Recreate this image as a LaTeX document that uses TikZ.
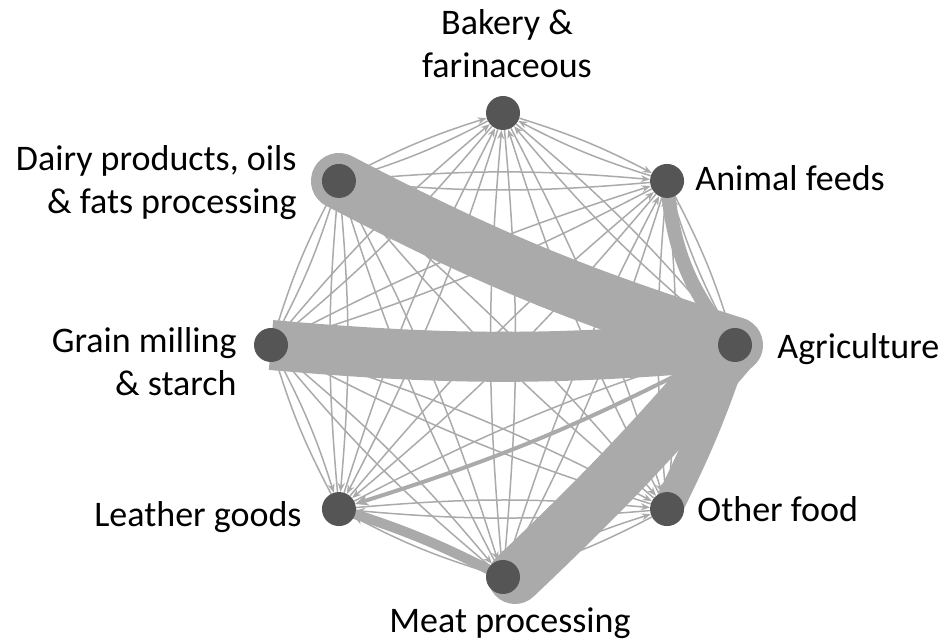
\documentclass[tikz,border=0pt]{standalone}
\usepackage{fontspec}
\setmainfont{Carlito}
\usetikzlibrary{arrows.meta,positioning,backgrounds}
\definecolor{edgegray}{RGB}{170,170,170}
\definecolor{nodegray}{RGB}{85,85,85}
\tikzset{v/.style={circle,fill=nodegray,minimum size=34pt,inner sep=0pt},
 e/.style={draw=edgegray,line width=1.5pt,-{Stealth[length=9pt,width=7pt]},bend left=5},
 band/.style={draw=edgegray,line cap=round},
 lab/.style={font=\fontsize{36}{43}\selectfont,inner sep=0pt}}
\begin{document}
\begin{tikzpicture}[x=1pt,y=1pt]
\useasboundingbox (0,0) rectangle (947,642);
\begin{scope}[shift={(503,297)}]
\node[v](ba) at (90:232){};\node[v](an) at (45:232){};
\node[v](ag) at (0:232){};\node[v](of) at (-45:232){};
\node[v](mp) at (-90:232){};\node[v](lg) at (-135:232){};
\node[v](gm) at (180:232){};\node[v](dp) at (135:232){};
\end{scope}
\begin{pgfonlayer}{background}
\foreach \s in {ba,an,ag,of,mp,lg,gm,dp}{\foreach \t in {ba,an,ag,of,mp,lg,gm,dp}{%
 \ifx\s\t\else\draw[e](\s) to (\t);\fi}}
\draw[e,line width=4pt,-{Stealth[length=13pt,width=11pt]}](ag) to (lg);
\draw[band,line width=10pt](lg.center) to[bend left=5] (mp.center);
\draw[band,line width=14pt](ag.center) to[bend left=18] (an.center);
\draw[band,line width=30pt](ag.center) to[bend left=4] (of.center);
\draw[band,line width=50pt,line cap=butt](ag.center) to[bend left=5] (gm.center);
\draw[band,line width=56pt](ag.center) to[bend left=5] (dp.center);
\draw[band,line width=54pt](ag.center) to[bend left=3] ([shift={(12,0)}]mp.center);
\end{pgfonlayer}
\node[lab,align=center,above=18pt of ba,xshift=4pt]{Bakery \&\\farinaceous};
\node[lab,right=11pt of an,yshift=3pt]{Animal feeds};
\node[lab,right=25pt of ag,yshift=-4pt]{Agriculture};
\node[lab,right=13pt of of]{Other food};
\node[lab,below=13pt of mp,xshift=7pt]{Meat processing};
\node[lab,left=20pt of lg,yshift=-8pt]{Leather goods};
\node[lab,align=right,left=17pt of gm,yshift=-17pt]{Grain milling\\\& starch};
\node[lab,align=right,left=25pt of dp,yshift=-2pt]{Dairy products, oils\\\& fats processing};
\end{tikzpicture}
\end{document}
